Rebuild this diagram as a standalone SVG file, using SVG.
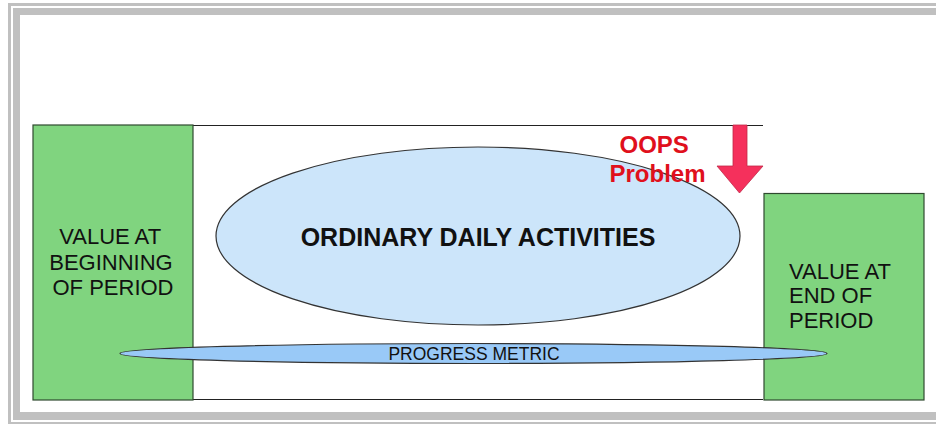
<svg xmlns="http://www.w3.org/2000/svg" width="936" height="424" viewBox="0 0 936 424">
  <style>
    .frame { fill: #c0c0c0; }
    .box { fill: #80d47f; stroke: #2f4a2f; stroke-width: 1.2; }
    .boxtxt { font-family: "Liberation Sans", Arial, sans-serif; font-size: 22px; fill: #111; }
    .edge { stroke: #222; stroke-width: 1.2; fill: none; }
    .ell { fill: #cce5fa; stroke: #333; stroke-width: 1.2; }
    .pm { fill: #99c9f7; stroke: #333; stroke-width: 1.2; }
    .oops { font-family: "Liberation Sans", Arial, sans-serif; font-size: 24px; font-weight: bold; fill: #e0101c; text-anchor: middle; }
  </style>
  <rect width="936" height="424" fill="#ffffff"/>
  <g id="frame">
    <rect class="frame" x="8" y="3" width="930" height="3"/>
    <rect class="frame" x="8" y="3" width="3" height="425"/>
    <rect class="frame" x="8" y="422" width="930" height="3"/>
    <rect class="frame" x="13" y="8" width="925" height="7"/>
    <rect class="frame" x="13" y="8" width="7" height="412"/>
    <rect class="frame" x="13" y="412" width="925" height="8"/>
  </g>
  <g id="connectors">
    <line class="edge" x1="33" y1="125.5" x2="763" y2="125.5"/>
    <line class="edge" x1="33" y1="399.5" x2="763" y2="399.5"/>
  </g>
  <g id="ordinary-daily-activities">
    <ellipse class="ell" cx="478" cy="236" rx="262" ry="89"/>
    <text x="478" y="246" font-family="'Liberation Sans', Arial, sans-serif" font-size="25" font-weight="bold" fill="#111" text-anchor="middle">ORDINARY DAILY ACTIVITIES</text>
  </g>
  <g id="value-beginning">
    <rect class="box" x="33" y="125" width="160" height="275"/>
    <text class="boxtxt" text-anchor="middle">
      <tspan x="113" y="244">VALUE AT</tspan>
      <tspan x="114" y="270">BEGINNING</tspan>
      <tspan x="113" y="295">OF PERIOD</tspan>
    </text>
  </g>
  <g id="value-end">
    <rect class="box" x="764" y="193.5" width="160" height="206.5"/>
    <text class="boxtxt">
      <tspan x="789" y="279">VALUE AT</tspan>
      <tspan x="789" y="303">END OF</tspan>
      <tspan x="789" y="328">PERIOD</tspan>
    </text>
  </g>
  <g id="progress-metric">
    <ellipse class="pm" cx="473.5" cy="353.5" rx="353.5" ry="10"/>
    <text x="474" y="360" font-family="'Liberation Sans', Arial, sans-serif" font-size="17.5" fill="#111" text-anchor="middle">PROGRESS METRIC</text>
  </g>
  <g id="oops-problem">
    <path d="M733,125 L747,125 L747,166 L763,166 L739.5,193 L717,166 L733,166 Z" fill="#f5305c" stroke="#c02848" stroke-width="0.8"/>
    <text class="oops">
      <tspan x="657.5" y="153">OOPS</tspan>
      <tspan x="657.5" y="182">Problem</tspan>
    </text>
  </g>
</svg>
